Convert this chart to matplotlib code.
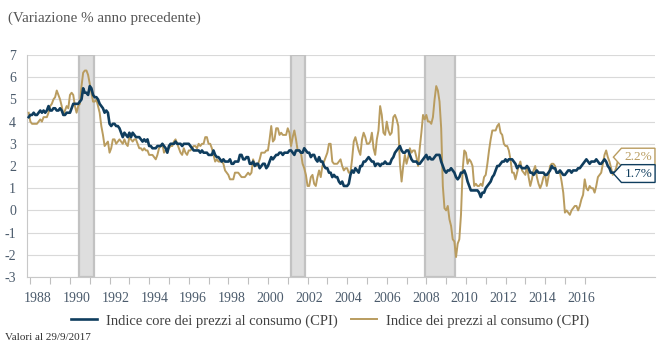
import numpy as np
import matplotlib
matplotlib.use("Agg")
from matplotlib import pyplot as plt
from matplotlib.path import Path

# monthly data, Dec 1987 -> Sep 2017 (% yoy)
start_year, start_month = 1987, 12

headline = [
    4.4,
    4.0, 3.9, 3.9, 3.9, 3.9, 4.0, 4.1, 4.0, 4.2, 4.2, 4.2, 4.4,   # 1988
    4.7, 4.8, 5.0, 5.1, 5.4, 5.2, 5.0, 4.7, 4.3, 4.5, 4.7, 4.6,   # 1989
    5.2, 5.3, 5.2, 4.7, 4.4, 4.7, 4.8, 5.6, 6.2, 6.3, 6.3, 6.1,   # 1990
    5.7, 5.3, 4.9, 4.9, 5.0, 4.7, 4.4, 3.8, 3.4, 2.9, 3.0, 3.1,   # 1991
    2.6, 2.8, 3.2, 3.2, 3.0, 3.1, 3.2, 3.1, 3.0, 3.2, 3.0, 2.9,   # 1992
    3.3, 3.2, 3.1, 3.2, 3.2, 3.0, 2.8, 2.8, 2.7, 2.8, 2.7, 2.7,   # 1993
    2.5, 2.5, 2.5, 2.4, 2.3, 2.5, 2.8, 2.9, 3.0, 2.6, 2.7, 2.7,   # 1994
    2.8, 2.9, 2.9, 3.1, 3.2, 3.0, 2.8, 2.6, 2.5, 2.8, 2.6, 2.5,   # 1995
    2.7, 2.7, 2.8, 2.9, 2.9, 2.8, 3.0, 2.9, 3.0, 3.0, 3.3, 3.3,   # 1996
    3.0, 3.0, 2.8, 2.5, 2.2, 2.3, 2.2, 2.2, 2.2, 2.1, 1.8, 1.7,   # 1997
    1.6, 1.4, 1.4, 1.4, 1.7, 1.7, 1.7, 1.6, 1.5, 1.5, 1.5, 1.6,   # 1998
    1.7, 1.6, 1.7, 2.3, 2.1, 2.0, 2.1, 2.3, 2.6, 2.6, 2.6, 2.7,   # 1999
    2.7, 3.2, 3.8, 3.1, 3.2, 3.7, 3.7, 3.4, 3.5, 3.4, 3.4, 3.4,   # 2000
    3.7, 3.5, 2.9, 3.3, 3.6, 3.2, 2.7, 2.7, 2.6, 2.1, 1.9, 1.6,   # 2001
    1.1, 1.1, 1.5, 1.6, 1.2, 1.1, 1.5, 1.8, 1.5, 2.0, 2.2, 2.4,   # 2002
    2.6, 3.0, 3.0, 2.2, 2.1, 2.1, 2.1, 2.2, 2.3, 2.0, 1.8, 1.9,   # 2003
    1.9, 1.7, 1.7, 2.3, 3.1, 3.3, 3.0, 2.7, 2.5, 3.2, 3.5, 3.3,   # 2004
    3.0, 3.0, 3.1, 3.5, 2.8, 2.5, 3.2, 3.6, 4.7, 4.3, 3.5, 3.4,   # 2005
    4.0, 3.6, 3.4, 3.5, 4.2, 4.3, 4.1, 3.8, 2.1, 1.3, 2.0, 2.5,   # 2006
    2.1, 2.4, 2.8, 2.6, 2.7, 2.7, 2.4, 2.0, 2.8, 3.5, 4.3, 4.1,   # 2007
    4.3, 4.0, 4.0, 3.9, 4.2, 5.0, 5.6, 5.4, 4.9, 3.7, 1.1, 0.1,   # 2008
    0.0, 0.2, -0.4, -0.7, -1.3, -1.4, -2.1, -1.5, -1.3, -0.2, 1.8, 2.7,  # 2009
    2.6, 2.1, 2.3, 2.2, 2.0, 1.1, 1.2, 1.1, 1.1, 1.2, 1.1, 1.5,   # 2010
    1.6, 2.1, 2.7, 3.2, 3.6, 3.6, 3.6, 3.8, 3.9, 3.5, 3.4, 3.0,   # 2011
    2.9, 2.9, 2.7, 2.3, 1.7, 1.7, 1.4, 1.7, 2.0, 2.2, 1.8, 1.7,   # 2012
    1.6, 2.0, 1.5, 1.1, 1.4, 1.8, 2.0, 1.5, 1.2, 1.0, 1.2, 1.5,   # 2013
    1.6, 1.1, 1.5, 2.0, 2.1, 2.1, 2.0, 1.7, 1.7, 1.7, 1.3, 0.8,   # 2014
    -0.1, 0.0, -0.1, -0.2, 0.0, 0.1, 0.2, 0.2, 0.0, 0.2, 0.5, 0.7,  # 2015
    1.4, 1.0, 0.9, 1.1, 1.0, 1.0, 0.8, 1.1, 1.5, 1.6, 1.7, 2.1,   # 2016
    2.5, 2.7, 2.4, 2.2, 1.9, 1.6, 1.7, 1.9, 2.2,                  # 2017
]

core = [
    4.2,
    4.3, 4.3, 4.4, 4.3, 4.3, 4.4, 4.5, 4.4, 4.5, 4.4, 4.5, 4.7,   # 1988
    4.5, 4.5, 4.6, 4.6, 4.5, 4.5, 4.6, 4.5, 4.3, 4.3, 4.4, 4.4,   # 1989
    4.4, 4.6, 4.8, 4.8, 4.8, 4.8, 4.9, 5.0, 5.5, 5.3, 5.3, 5.2,   # 1990
    5.6, 5.5, 5.2, 5.1, 5.1, 5.0, 4.8, 4.7, 4.6, 4.4, 4.5, 4.4,   # 1991
    3.9, 3.8, 3.9, 3.9, 3.8, 3.8, 3.7, 3.5, 3.3, 3.5, 3.4, 3.3,   # 1992
    3.5, 3.3, 3.5, 3.4, 3.3, 3.3, 3.3, 3.2, 3.1, 3.2, 3.1, 3.2,   # 1993
    2.9, 2.9, 2.8, 2.8, 2.8, 2.9, 2.9, 2.9, 3.0, 2.9, 2.8, 2.6,   # 1994
    2.9, 3.0, 3.0, 3.0, 3.1, 3.0, 3.0, 3.0, 2.9, 3.0, 3.0, 3.0,   # 1995
    3.0, 2.9, 2.8, 2.7, 2.7, 2.7, 2.7, 2.6, 2.7, 2.6, 2.6, 2.6,   # 1996
    2.5, 2.5, 2.5, 2.7, 2.5, 2.4, 2.4, 2.3, 2.2, 2.3, 2.2, 2.2,   # 1997
    2.2, 2.3, 2.1, 2.1, 2.2, 2.2, 2.2, 2.5, 2.5, 2.3, 2.3, 2.4,   # 1998
    2.4, 2.1, 2.1, 2.2, 2.0, 2.1, 2.1, 1.9, 2.0, 2.1, 2.1, 1.9,   # 1999
    2.0, 2.2, 2.4, 2.3, 2.4, 2.5, 2.5, 2.6, 2.6, 2.5, 2.6, 2.6,   # 2000
    2.6, 2.7, 2.7, 2.6, 2.5, 2.7, 2.7, 2.7, 2.6, 2.6, 2.8, 2.7,   # 2001
    2.6, 2.6, 2.4, 2.5, 2.5, 2.3, 2.2, 2.4, 2.2, 2.2, 2.0, 1.9,   # 2002
    1.9, 1.7, 1.7, 1.5, 1.6, 1.5, 1.5, 1.3, 1.2, 1.3, 1.1, 1.1,   # 2003
    1.1, 1.2, 1.6, 1.8, 1.7, 1.9, 1.8, 1.7, 2.0, 2.0, 2.2, 2.2,   # 2004
    2.3, 2.4, 2.3, 2.2, 2.2, 2.0, 2.1, 2.1, 2.0, 2.1, 2.1, 2.2,   # 2005
    2.1, 2.1, 2.1, 2.3, 2.4, 2.6, 2.7, 2.8, 2.9, 2.7, 2.6, 2.6,   # 2006
    2.7, 2.7, 2.5, 2.3, 2.2, 2.2, 2.2, 2.1, 2.1, 2.2, 2.3, 2.4,   # 2007
    2.5, 2.3, 2.4, 2.3, 2.3, 2.4, 2.5, 2.5, 2.5, 2.2, 2.0, 1.8,   # 2008
    1.7, 1.8, 1.8, 1.9, 1.8, 1.7, 1.5, 1.4, 1.5, 1.7, 1.7, 1.8,   # 2009
    1.6, 1.3, 1.1, 0.9, 0.9, 0.9, 0.9, 0.9, 0.8, 0.6, 0.8, 0.8,   # 2010
    1.0, 1.1, 1.2, 1.3, 1.5, 1.6, 1.8, 2.0, 2.0, 2.1, 2.2, 2.2,   # 2011
    2.3, 2.2, 2.3, 2.3, 2.3, 2.2, 2.1, 1.9, 2.0, 2.0, 1.9, 1.9,   # 2012
    1.9, 2.0, 1.9, 1.7, 1.7, 1.6, 1.7, 1.8, 1.7, 1.7, 1.7, 1.7,   # 2013
    1.6, 1.6, 1.7, 1.8, 2.0, 1.9, 1.9, 1.7, 1.7, 1.8, 1.7, 1.6,   # 2014
    1.6, 1.7, 1.8, 1.8, 1.7, 1.8, 1.8, 1.8, 1.9, 1.9, 2.0, 2.1,   # 2015
    2.2, 2.3, 2.2, 2.1, 2.2, 2.2, 2.2, 2.3, 2.2, 2.1, 2.1, 2.2,   # 2016
    2.3, 2.2, 2.0, 1.9, 1.7, 1.7, 1.7, 1.7, 1.7,                  # 2017
]

# recession bands (decimal years)
recessions = [(1990.45, 1991.2), (2001.15, 2001.85), (2007.92, 2009.45)]

year_labels = list(range(1988, 2017, 2))
y_ticks = list(range(-3, 8))

label_core = "Indice core dei prezzi al consumo (CPI)"
label_cpi = "Indice dei prezzi al consumo (CPI)"

navy = "#0f3d5e"
tan = "#b99c5f"
tick_col = "#4b5b6c"

t = start_year + (start_month - 1) / 12 + np.arange(len(headline)) / 12

plt.rcParams['font.family'] = ['Liberation Serif', 'DejaVu Serif']

fig = plt.figure(figsize=(6.61, 3.48), dpi=100)
ax = fig.add_axes([27 / 661, 1 - 277 / 348, 628 / 661, 222 / 348])

for a, b in recessions:
    ax.axvspan(a, b, facecolor="#dedede", edgecolor="#c2c2c2", lw=1.6, zorder=1)

ax.plot(t, core, color=navy, lw=1.9, zorder=4, label=label_core)
ax.plot(t, headline, color=tan, lw=1.4, zorder=3, label=label_cpi)

ax.set_xlim(1987.83, 2019.55)
ax.set_ylim(-3, 7)
ax.set_yticks(y_ticks)
ax.set_yticklabels([str(v) for v in y_ticks])
ax.grid(axis="y", color="#d9d9d9", lw=0.8, zorder=0)
ax.set_axisbelow(True)

# year ticks; labels sit a little right of the tick as in the source chart
ax.set_xticks(range(1988, 2017), minor=True)
label_pos = [y + 0.39 - (y - 1988) * 0.021 for y in year_labels]
ax.set_xticks(label_pos)
ax.set_xticklabels([str(y) for y in year_labels])
ax.tick_params(axis="x", which="major", length=0, labelsize=10,
               labelcolor=tick_col, pad=11)
ax.tick_params(axis="x", which="minor", length=5, color="#bfbfbf", width=0.8,
               direction="out")
ax.tick_params(axis="y", length=0, labelsize=10, labelcolor=tick_col, pad=8)

for s in ["top", "right"]:
    ax.spines[s].set_visible(False)
for s in ["left", "bottom"]:
    ax.spines[s].set_color("#c8c8c8")
    ax.spines[s].set_linewidth(0.8)


def pointer(x0, y0, width, height, mutation_size):
    pad = 0.22 * mutation_size
    x0, y0 = x0 - pad, y0 - pad
    w, h = width + 2 * pad, height + 2 * pad
    tip = 0.45 * h
    verts = [(x0 - tip, y0 + h / 2), (x0, y0), (x0 + w, y0), (x0 + w, y0 + h),
             (x0, y0 + h), (x0 - tip, y0 + h / 2)]
    return Path(verts, closed=True)


ax.text(2018.0, 2.4, "%.1f%%" % headline[-1], color=tan, fontsize=9.5,
        ha="left", va="center", zorder=6,
        bbox=dict(boxstyle=pointer, fc="white", ec=tan, lw=1.0))
ax.text(2018.0, 1.66, "%.1f%%" % core[-1], color=navy, fontsize=9.5,
        ha="left", va="center", zorder=6,
        bbox=dict(boxstyle=pointer, fc="white", ec=navy, lw=1.0))

fig.legend(loc="center", bbox_to_anchor=(330 / 661, 1 - 321 / 348), ncol=2,
           frameon=False, fontsize=10.5, handlelength=1.8, columnspacing=0.9,
           handletextpad=0.6, labelcolor="#404040")

fig.text(8 / 661, 1 - 18 / 348, "(Variazione % anno precedente)", fontsize=10.8,
         color="#555555", va="center", ha="left")
fig.text(5 / 661, 1 - 337 / 348, "Valori al 29/9/2017", fontsize=8,
         color="#333333", va="center", ha="left")

fig.savefig("out.png", dpi=100)
